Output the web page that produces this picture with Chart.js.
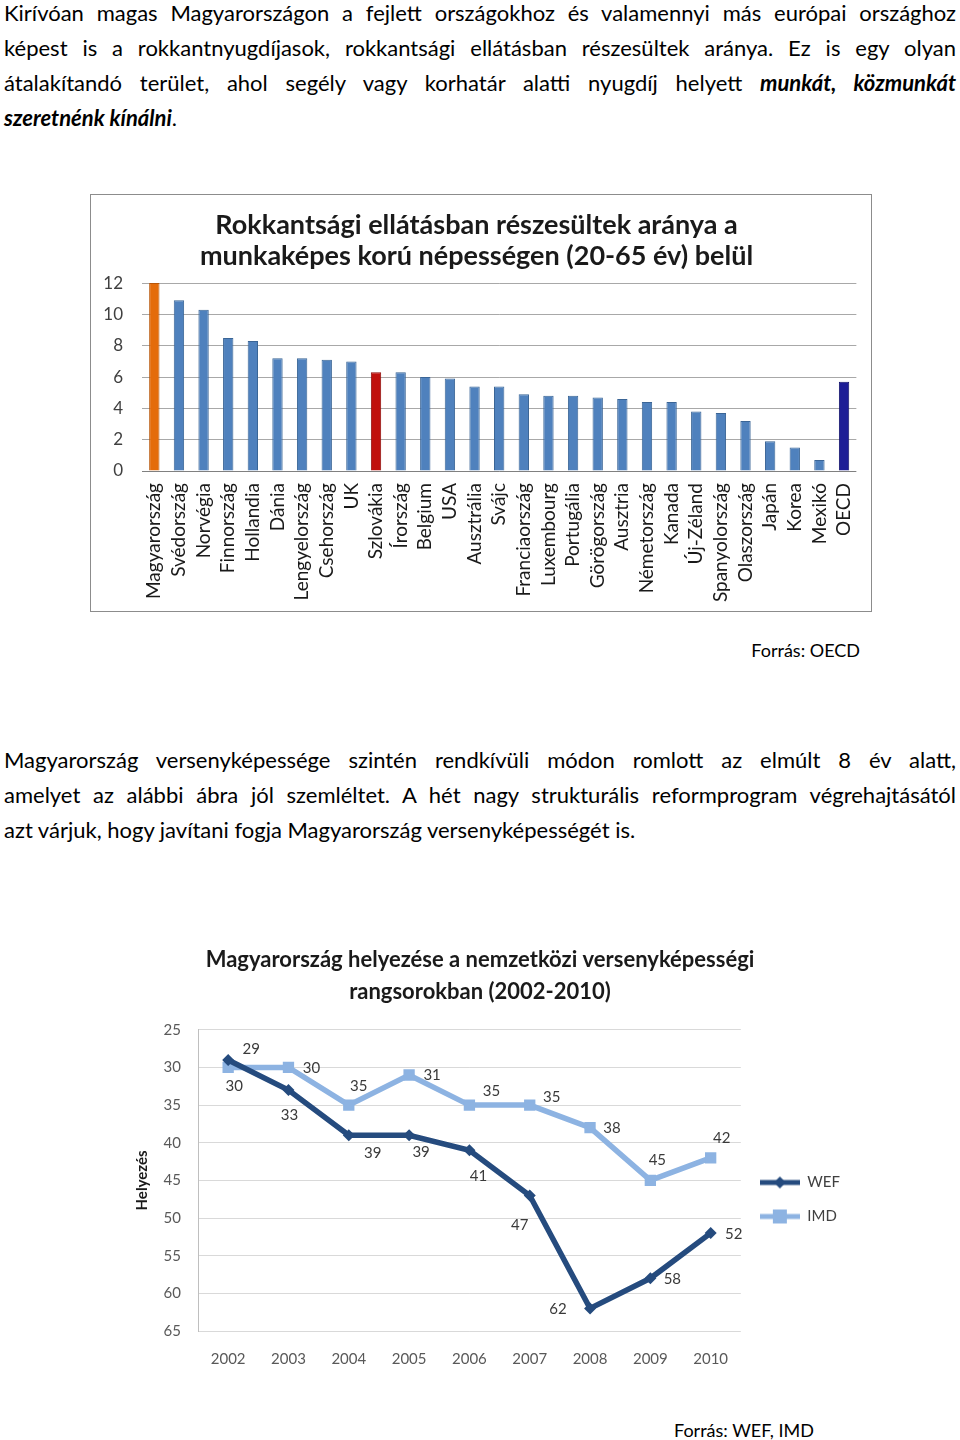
<!DOCTYPE html>
<html lang="hu">
<head>
<meta charset="utf-8">
<title>Rokkantsági ellátás és versenyképesség</title>
<script src="https://cdn.jsdelivr.net/npm/chart.js@4.4.1/dist/chart.umd.min.js"></script>
<style>
  html, body { margin: 0; padding: 0; background: #fff; }
  body { width: 960px; height: 1440px; position: relative; overflow: hidden; font-family: Lato, "Open Sans", sans-serif; color: #000; }
  .para { position: absolute; left: 4px; width: 952px; font-size: 22px; line-height: 35px; }
  .para div { white-space: nowrap; text-align: justify; text-align-last: justify; }
  .para div.last { text-align-last: left; }
  .source { position: absolute; font-size: 18px; white-space: nowrap; }
  #barBox { position: absolute; left: 90px; top: 194px; width: 782px; height: 418px; border: 1px solid #8c8c8c; box-sizing: border-box; }
  #lineBox { position: absolute; left: 110px; top: 930px; width: 740px; height: 457px; }
</style>
</head>
<body>

<div class="para" id="p1" style="top:-5px">
  <div>Kirívóan magas Magyarországon a fejlett országokhoz és valamennyi más európai országhoz</div>
  <div>képest is a rokkantnyugdíjasok, rokkantsági ellátásban részesültek aránya. Ez is egy olyan</div>
  <div>átalakítandó terület, ahol segély vagy korhatár alatti nyugdíj helyett <b><i>munkát, közmunkát</i></b></div>
  <div class="last"><b><i>szeretnénk kínálni</i></b>.</div>
</div>

<div id="barBox"><canvas id="disabilityChart"></canvas></div>
<div class="source" style="right:100px; top:639px">Forrás: OECD</div>

<div class="para" id="p2" style="top:742px">
  <div>Magyarország versenyképessége szintén rendkívüli módon romlott az elmúlt 8 év alatt,</div>
  <div>amelyet az alábbi ábra jól szemléltet. A hét nagy strukturális reformprogram végrehajtásától</div>
  <div class="last">azt várjuk, hogy javítani fogja Magyarország versenyképességét is.</div>
</div>

<div id="lineBox"><canvas id="rankChart"></canvas></div>
<div class="source" style="left:674px; top:1419px">Forrás: WEF, IMD</div>

<script>
// --- data: disability benefit recipients, % of population aged 20-65
const countries = ['Magyarország', 'Svédország', 'Norvégia', 'Finnország', 'Hollandia', 'Dánia',
  'Lengyelország', 'Csehország', 'UK', 'Szlovákia', 'Írország', 'Belgium', 'USA', 'Ausztrália',
  'Svájc', 'Franciaország', 'Luxembourg', 'Portugália', 'Görögország', 'Ausztria', 'Németország',
  'Kanada', 'Új-Zéland', 'Spanyolország', 'Olaszország', 'Japán', 'Korea', 'Mexikó', 'OECD'];
const disabilityRates = [12.0, 10.9, 10.3, 8.5, 8.3, 7.2, 7.2, 7.1, 7.0, 6.3, 6.3, 6.0, 5.9, 5.4,
  5.4, 4.9, 4.8, 4.8, 4.7, 4.6, 4.4, 4.4, 3.8, 3.7, 3.2, 1.9, 1.5, 0.7, 5.7];
const rateTicks = [0, 2, 4, 6, 8, 10, 12];

// --- data: Hungary's rank in competitiveness rankings
const years = ['2002', '2003', '2004', '2005', '2006', '2007', '2008', '2009', '2010'];
const wefRank = [29, 33, 39, 39, 41, 47, 62, 58, 52];
const imdRank = [30, 30, 35, 31, 35, 35, 38, 45, 42];
const rankTicks = [25, 30, 35, 40, 45, 50, 55, 60, 65];

function barColor(name) {
  if (name === 'Magyarország') return '#e46c0a';
  if (name === 'Szlovákia') return '#c0100c';
  if (name === 'OECD') return '#1d1d96';
  return '#4f81bd';
}
function barEdge(name) {
  if (name === 'Magyarország') return '#b75508';
  if (name === 'Szlovákia') return '#8e0a08';
  if (name === 'OECD') return '#12126a';
  return '#3a6596';
}

new Chart(document.getElementById('disabilityChart'), {
  type: 'bar',
  data: {
    labels: countries,
    datasets: [{
      data: disabilityRates,
      backgroundColor: countries.map(barColor),
      borderColor: countries.map(barEdge),
      borderWidth: 1,
      barPercentage: 0.42,
      categoryPercentage: 1
    }]
  },
  options: {
    responsive: true,
    maintainAspectRatio: false,
    animation: false,
    layout: { padding: { left: 0, right: 9, top: 0, bottom: 0 } },
    plugins: {
      legend: { display: false },
      tooltip: { enabled: false },
      title: {
        display: true,
        text: ['Rokkantsági ellátásban részesültek aránya a', 'munkaképes korú népességen (20-65 év) belül'],
        color: '#1a1a1a',
        font: { family: 'Lato', size: 27, weight: 'bold', lineHeight: 1.15 },
        padding: { top: 15, bottom: 11 }
      }
    },
    scales: {
      x: {
        grid: { display: false },
        border: { display: false },
        afterFit: s => { s.height = 140; },
        ticks: {
          autoSkip: false, minRotation: 90, maxRotation: 90,
          color: '#1a1a1a', padding: 4,
          font: { family: 'Lato', size: 19 }
        }
      },
      y: {
        min: 0, max: 12,
        afterBuildTicks: s => { s.ticks = rateTicks.map(v => ({ value: v })); },
        afterFit: s => { s.width = 51; },
        border: { display: false },
        grid: { drawTicks: false, color: c => c.tick.value === 0 ? '#808080' : '#a8a8a8' },
        ticks: { color: '#404040', padding: 19, font: { family: 'Lato', size: 17 } }
      }
    }
  }
});

// legend swatch: a short line with the series marker on it
function swatch(color, style, r) {
  const c = document.createElement('canvas');
  c.width = 40; c.height = 18;
  const g = c.getContext('2d');
  g.strokeStyle = color; g.lineWidth = 5;
  g.beginPath(); g.moveTo(0, 9); g.lineTo(40, 9); g.stroke();
  g.fillStyle = color;
  if (style === 'rectRot') {
    g.beginPath(); g.moveTo(20, 9 - r); g.lineTo(20 + r, 9); g.lineTo(20, 9 + r); g.lineTo(20 - r, 9); g.closePath(); g.fill();
  } else {
    g.fillRect(20 - r, 9 - r, 2 * r, 2 * r);
  }
  return c;
}

const pointLabels = {
  id: 'pointLabels',
  afterDatasetsDraw(chart, args, opts) {
    const ctx = chart.ctx;
    ctx.save();
    ctx.font = '15px Lato';
    ctx.fillStyle = '#3a3a3a';
    ctx.textAlign = 'center';
    ctx.textBaseline = 'middle';
    chart.data.datasets.forEach((ds, di) => {
      const shifts = opts.shifts[ds.label];
      chart.getDatasetMeta(di).data.forEach((pt, i) => {
        ctx.fillText(String(ds.data[i]), pt.x + shifts[i][0], pt.y + shifts[i][1]);
      });
    });
    ctx.restore();
  }
};

const wefColor = '#254b7e';
const imdColor = '#8db3e2';

new Chart(document.getElementById('rankChart'), {
  type: 'line',
  data: {
    labels: years,
    datasets: [
      { label: 'WEF', data: wefRank, borderColor: wefColor, backgroundColor: wefColor, borderWidth: 5.5,
        pointStyle: 'rectRot', pointRadius: 6, pointBorderWidth: 0, tension: 0 },
      { label: 'IMD', data: imdRank, borderColor: imdColor, backgroundColor: imdColor, borderWidth: 5.5,
        pointStyle: 'rect', pointRadius: 8, pointBorderWidth: 0, tension: 0 }
    ]
  },
  plugins: [pointLabels],
  options: {
    responsive: true,
    maintainAspectRatio: false,
    animation: false,
    layout: { padding: { left: 0, right: 0, top: 0, bottom: 8 } },
    plugins: {
      tooltip: { enabled: false },
      title: {
        display: true,
        text: ['Magyarország helyezése a nemzetközi versenyképességi', 'rangsorokban (2002-2010)'],
        color: '#1a1a1a',
        font: { family: 'Lato', size: 22, weight: 'bold', lineHeight: 1.45 },
        padding: { top: 14, bottom: 22 }
      },
      legend: {
        position: 'right',
        title: { display: true, text: ' ', font: { size: 15 }, padding: { top: 36, bottom: 36 } },
        labels: {
          usePointStyle: true,
          pointStyleWidth: 40,
          padding: 19,
          color: '#404040',
          font: { family: 'Lato', size: 15 },
          generateLabels: chart => chart.data.datasets.map((ds, i) => ({
            text: ds.label,
            pointStyle: swatch(ds.borderColor, ds.pointStyle, ds.pointStyle === 'rect' ? 7 : 6),
            fillStyle: ds.borderColor, strokeStyle: ds.borderColor, lineWidth: 0,
            fontColor: '#404040', hidden: false, datasetIndex: i
          }))
        }
      },
      pointLabels: {
        shifts: {
          WEF: [[23, -11], [1, 25], [24, 18], [12, 17], [9, 26], [-10, 30], [-32, 1], [22, 1], [23, 1]],
          IMD: [[6, 19], [23, 1], [10, -19], [23, 0], [22, -14], [22, -8], [22, 0], [7, -20], [11, -20]]
        }
      }
    },
    scales: {
      x: {
        offset: true,
        grid: { display: false },
        border: { display: false },
        ticks: { color: '#595959', padding: 11, font: { family: 'Lato', size: 15 } }
      },
      y: {
        reverse: true, min: 25, max: 65,
        afterBuildTicks: s => { s.ticks = rankTicks.map(v => ({ value: v })); },
        afterFit: s => { s.width = 88; },
        border: { display: true, color: '#bfbfbf' },
        grid: { drawTicks: false, color: '#d9d9d9' },
        ticks: { color: '#595959', padding: 17, font: { family: 'Lato', size: 15 } },
        title: {
          display: true, text: 'Helyezés', color: '#1a1a1a',
          padding: { top: 23, bottom: 4 },
          font: { family: 'Lato', size: 15, weight: 'bold' }
        }
      }
    }
  }
});

// shrink paragraph text until every justified line fits on one row
document.querySelectorAll('.para').forEach(p => {
  let size = 22;
  const fits = () => [...p.children].every(d => d.scrollWidth <= d.clientWidth + 1);
  while (!fits() && size > 16) { size -= 0.25; p.style.fontSize = size + 'px'; }
});
</script>
</body>
</html>
